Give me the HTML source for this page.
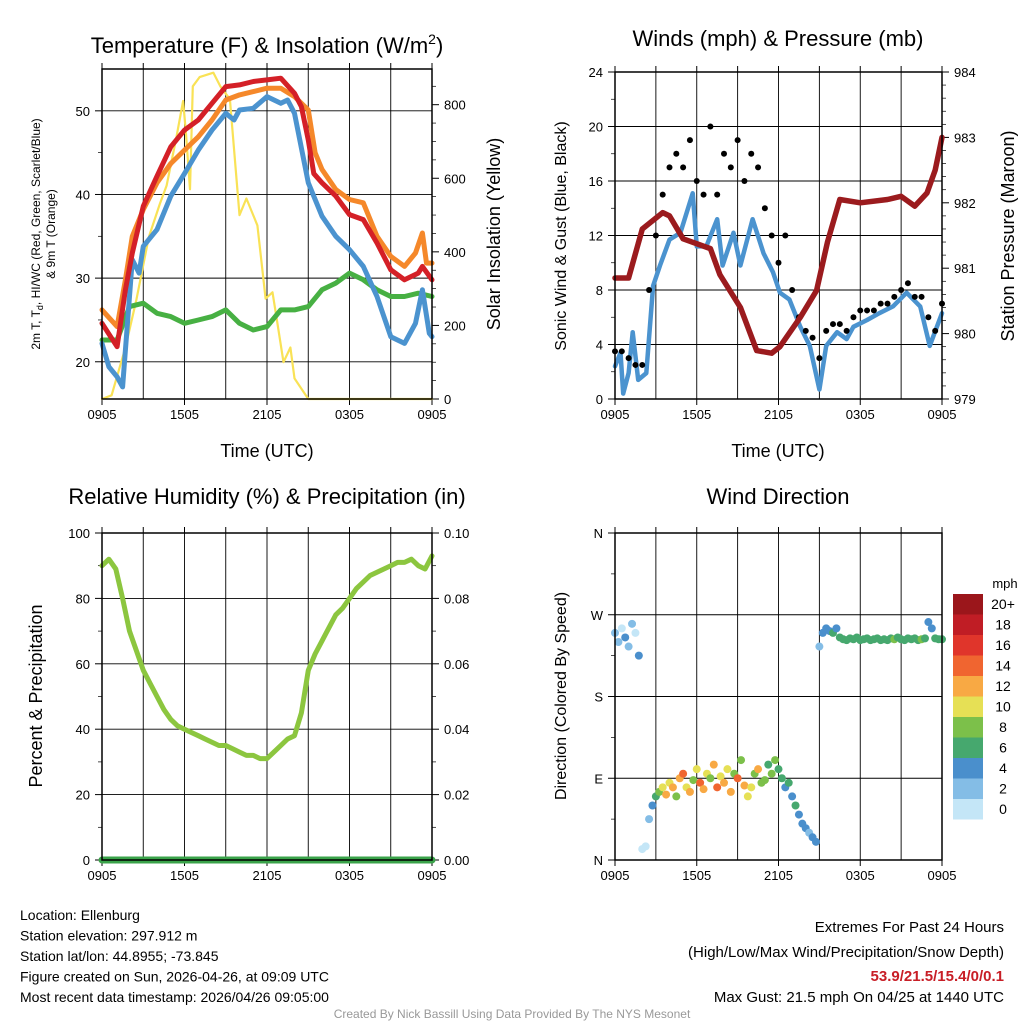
<!DOCTYPE html>
<html><head><meta charset="utf-8"><style>
body{margin:0;background:#fff;font-family:"Liberation Sans",sans-serif}
svg{display:block}
</style></head><body>
<svg id="c" width="1024" height="1024" xmlns="http://www.w3.org/2000/svg" font-family="Liberation Sans, sans-serif"></svg>
<script>
// ---------- data ----------
const xTicks=["0905","1505","2105","0305","0905"];
const redT=[0,1.1,1.7,2.2,3,4,5,6,7,8,9,10,11,12,13,14,14.5,15,15.4,16,17,18,19,20,21,22,23,23.3,24];
const tempRed=[24.6,21.8,28.6,33,38.6,42.2,45.7,47.7,48.9,50.9,52.9,53.1,53.5,53.7,53.9,52.1,50.5,46.5,42.5,41.4,39.8,37.6,37,34.2,31,29.8,30.6,31.4,29.8];
const orangeT=[0,1.1,1.7,2.2,3,4,5,6,7,8,9,10,11,12,13,14,15,15.5,16,17,18,19,20,21,22,22.8,23.3,23.6,24];
const tempOrange=[26.2,24.2,29.8,35,38.2,41.4,43.7,45.3,46.9,48.9,51.3,51.9,52.3,52.7,52.7,51.7,50.1,45,43,40.6,39.4,39,35,32.6,31.4,33,35.4,31.8,31.8];
const blueT=[0,0.5,1.1,1.5,2.2,2.7,3,4,5,6,7,8,9,9.6,10,11,12,13,13.5,14,15,16,17,18,19,20,21,22,22.8,23.3,23.8,24];
const tempBlue=[22.2,19.4,18.2,17,32.2,30.6,33.8,35.8,39.8,42.5,45.3,47.7,49.7,48.9,50.1,50.3,51.7,50.9,51.3,49.7,41.4,37.4,35,33.4,31.4,27.8,23,22.2,24.6,28.6,23.4,23];
const greenT=[0,1.1,2,3,4,5,6,7,8,9,10,11,12,13,14,15,16,17,18,19,20,21,22,23,24];
const tempGreen=[22.6,22.6,26.6,27,25.8,25.4,24.6,25,25.4,26.2,24.6,23.8,24.2,26.2,26.2,26.6,28.6,29.4,30.6,29.8,28.6,27.8,27.8,28.2,27.8];
const solarT=[0,0.7,1.7,2.5,3.4,4.2,4.7,5.4,5.9,6.1,6.4,6.6,7.1,8.1,8.6,9.3,10,10.5,11.3,11.9,12.4,12.7,13.2,13.7,14,15,24];
const solar=[0,10,140,270,440,530,580,710,810,725,570,850,875,887,850,815,500,545,472,273,290,220,100,140,56,0,0];
const windT=[0,0.4,0.6,1,1.3,1.7,2.3,2.8,3.3,4,4.8,5.7,6,6.7,7.5,7.9,8.7,9.2,10.1,10.9,11.6,12.1,12.8,13.6,14.3,15,15.5,16.3,17,17.5,18.5,19.4,20.4,21.4,22.4,23.1,24];
const wind=[2.4,3.4,0.4,1.9,4.9,1.4,1.9,8.3,9.8,11.7,12.2,15.1,11.2,11.2,13.2,9.8,12.2,9.8,13.2,10.7,9.3,7.8,7.3,5.3,3.9,0.7,3.9,4.9,4.4,5.3,5.8,6.3,6.8,7.8,6.8,3.9,6.3];
const hours2=[];for(let i=0;i<=48;i++)hours2.push(i/2);
const gust=[3.5,3.5,3,2.5,2.5,8,12,15,17,18,17,19,16,15,20,15,18,17,19,16,18,17,14,12,10,12,8,6,5,4.5,3,5,5.5,5.5,5,6,6.5,6.5,6.5,7,7,7.5,8,8.5,7.5,7.5,6,5,7];
const presT=[0,1,2,3.5,4,5,7,7.7,9.2,10.4,11.5,12.1,13.6,14.8,15.6,16.5,18,20,21,22,22.9,23.5,24];
const pressure=[980.85,980.85,981.6,981.85,981.8,981.45,981.3,980.9,980.4,979.74,979.7,979.8,980.25,980.66,981.4,982.05,982.0,982.05,982.1,981.95,982.15,982.5,983.0];
const rh=[90,92,89,80,70,64,58,54,50,46,43,41,40,39,38,37,36,35,35,34,33,32,32,31,31,33,35,37,38,45,58,63,67,71,75,77,80,83,85,87,88,89,90,91,91,92,90,89,93];
const hours1=[0,6,12,18,24];
const precip=[0,0,0,0,0];
const dirT=[];for(let i=0;i<=96;i++)dirT.push(i/4);
const windDir=[250,240,255,245, 235,260,250,225, 12,15,45,60, 70,75,80,72, 85,80,70,90, 95,80,75,88, 100,85,78,95, 90,105,80,92, 85,100,75,95, 90,110,82,70, 80,95,100,85, 88,105,95,110, 100,90,80,85, 70,60,50,40, 35,30,25,20, 235,250,255,252, 250,255,245,243, 242,244,243,245, 242,243,244,242, 243,244,242,243, 242,244,243,245, 243,242,244,243, 244,242,243,244, 262,255,244,243, 243];
const windSpd=[2,3,1,4, 2,3,1,5, 0.5,1,3,5, 7,9,10,12, 11,13,9,12, 14,10,12,8, 11,14,13,10, 9,12,15,11, 13,10,12,8, 15,9,12,11, 10,8,12,9, 8,7,9,8, 6,7,5,6, 5,6,4,5, 4,3,4,4, 2,4,5,4, 6,5,6,7, 6,7,6,7, 6,7,6,7, 7,6,7,6, 6,7,8,7, 7,6,7,6, 7,6,8,7, 4,5,6,7, 6];
const cbLabels=["20+","18","16","14","12","10","8","6","4","2","0"];
const cbColors=["#9b161b","#c01d25","#e0352b","#f06530","#f8a944","#e6e055","#7cc04a","#46a86e","#4a8fcc","#84bde6","#c4e6f7"];

// ---------- helpers ----------
const svg=document.getElementById('c');const NS="http://www.w3.org/2000/svg";
function el(tag,attrs,parent,text){const e=document.createElementNS(NS,tag);for(const k in attrs)e.setAttribute(k,attrs[k]);if(text!==undefined)e.textContent=text;(parent||svg).appendChild(e);return e;}
function lin(d0,d1,r0,r1){return v=>r0+(v-d0)/(d1-d0)*(r1-r0);}
function txt(x,y,s,size,anchor,parent,name,extra){const t=el('text',Object.assign({x:x,y:y,'font-size':size,'text-anchor':anchor||'middle',fill:'#000'},extra||{}),parent,s);return t;}
function frame(P,name){
  const g=el('g',{});
  const X=lin(0,24,P.x0,P.x1);
  for(let h=3;h<24;h+=3){el('line',{x1:X(h),x2:X(h),y1:P.y0,y2:P.y1,stroke:'#000','stroke-width':0.9},g);}
  xTicks.forEach((s,i)=>{const x=X(i*6);el('line',{x1:x,x2:x,y1:P.y1,y2:P.y1+6,stroke:'#000'},g);txt(x,P.y1+20,s,13,'middle',g,'x-tick-label');});
  for(let h=0;h<=24;h+=3){el('line',{x1:X(h),x2:X(h),y1:P.y0,y2:P.y0-6,stroke:'#000'},g);}
  return g;}
function yAxisL(P,g,d0,d1,ticks,labels,minor){
  const Y=lin(d0,d1,P.y1,P.y0);
  ticks.forEach((v,i)=>{const y=Y(v);el('line',{x1:P.x0,x2:P.x1,y1:y,y2:y,stroke:'#000','stroke-width':0.9},g);el('line',{x1:P.x0-7,x2:P.x0,y1:y,y2:y,stroke:'#000'},g);txt(P.x0-12,y+5,labels[i],13,'end',g,'y-tick-label');});
  minor.forEach(v=>{const y=Y(v);el('line',{x1:P.x0-4,x2:P.x0,y1:y,y2:y,stroke:'#000','stroke-width':0.7},g);});
  return Y;}
function yAxisR(P,g,d0,d1,ticks,labels,minor){
  const Y=lin(d0,d1,P.y1,P.y0);
  ticks.forEach((v,i)=>{const y=Y(v);el('line',{x1:P.x1,x2:P.x1+7,y1:y,y2:y,stroke:'#000'},g);txt(P.x1+12,y+5,labels[i],13,'start',g,'y2-tick-label');});
  minor.forEach(v=>{const y=Y(v);el('line',{x1:P.x1,x2:P.x1+4,y1:y,y2:y,stroke:'#000','stroke-width':0.7},g);});
  return Y;}
function border(P,g){el('rect',{x:P.x0,y:P.y0,width:P.x1-P.x0,height:P.y1-P.y0,fill:'none',stroke:'#000','stroke-width':1.5},g);}
function line(xs,ys,X,Y,color,w,g,name){const d=xs.map((h,i)=>(i?'L':'M')+X(h).toFixed(1)+','+Y(ys[i]).toFixed(1)).join('');const p=el('path',{d:d,fill:'none',stroke:color,'stroke-width':w,'stroke-linejoin':'round','stroke-linecap':'round'},g);return p;}
function seq(a,b,s){const r=[];for(let v=a;v<=b+1e-9;v+=s)r.push(+v.toFixed(3));return r;}

// ---------- Panel 1: temperature ----------
const P1={x0:102,x1:432,y0:69,y1:399};
const g1=frame(P1,'temperature-panel');
const X1=lin(0,24,P1.x0,P1.x1);
const Y1=yAxisL(P1,g1,15.55,55.0,[20,30,40,50],["20","30","40","50"],[25,35,45]);
const Y1r=yAxisR(P1,g1,0,897,[0,200,400,600,800],["0","200","400","600","800"],seq(50,850,50).filter(v=>v%200));
line(solarT,solar,X1,Y1r,'#f9e256',2.2,g1,'solar-insolation-line');
line(greenT,tempGreen,X1,Y1,'#47b043',5,g1,'dewpoint-line');
line(orangeT,tempOrange,X1,Y1,'#f5882a',5,g1,'9m-temp-line');
line(blueT,tempBlue,X1,Y1,'#4b93cf',5,g1,'windchill-line');
line(redT,tempRed,X1,Y1,'#d42027',5,g1,'2m-temp-line');
border(P1,g1);
const t1=txt(267,53,'Temperature (F) & Insolation (W/m',22,'middle',g1,'temperature-title');
el('tspan',{dy:-9,'font-size':14},t1,'2');el('tspan',{dy:9},t1,')');
txt(267,457,'Time (UTC)',18,'middle',g1,'x-axis-title');
const yl=txt(0,0,'2m T, T',12,'middle',g1,'y-axis-title',{transform:'translate(40,234) rotate(-90)'});
el('tspan',{'font-size':9,dy:3},yl,'d');el('tspan',{dy:-3},yl,', HI/WC (Red, Green, Scarlet/Blue)');
txt(0,0,'& 9m T (Orange)',12,'middle',g1,'y-axis-title-line2',{transform:'translate(55,234) rotate(-90)'});
txt(0,0,'Solar Insolation (Yellow)',18,'middle',g1,'y2-axis-title',{transform:'translate(500,234) rotate(-90)'});

// ---------- Panel 2: winds ----------
const P2={x0:615,x1:942,y0:72,y1:399};
const g2=frame(P2,'winds-panel');
const X2=lin(0,24,P2.x0,P2.x1);
const Y2=yAxisL(P2,g2,0,24,[0,4,8,12,16,20,24],["0","4","8","12","16","20","24"],[2,6,10,14,18,22]);
const Y2r=yAxisR(P2,g2,979,984,[979,980,981,982,983,984],["979","980","981","982","983","984"],seq(979.2,983.8,0.2).filter(v=>Math.abs(v-Math.round(v))>0.01));
line(windT,wind,X2,Y2,'#4b93cf',4.5,g2,'sonic-wind-line');
hours2.forEach((h,i)=>{const c=el('circle',{cx:X2(h),cy:Y2(gust[i]),r:3,fill:'#000'},g2);});
line(presT,pressure,X2,Y2r,'#9b1b1e',5.5,g2,'pressure-line');
border(P2,g2);
txt(778,46,'Winds (mph) & Pressure (mb)',22,'middle',g2,'winds-title');
txt(778,457,'Time (UTC)',18,'middle',g2,'x-axis-title');
txt(0,0,'Sonic Wind & Gust (Blue, Black)',16,'middle',g2,'y-axis-title',{transform:'translate(566,236) rotate(-90)'});
txt(0,0,'Station Pressure (Maroon)',18,'middle',g2,'y2-axis-title',{transform:'translate(1014,236) rotate(-90)'});

// ---------- Panel 3: RH ----------
const P3={x0:102,x1:432,y0:533,y1:860};
const g3=frame(P3,'humidity-panel');
const X3=lin(0,24,P3.x0,P3.x1);
const Y3=yAxisL(P3,g3,0,100,[0,20,40,60,80,100],["0","20","40","60","80","100"],[10,30,50,70,90]);
const Y3r=yAxisR(P3,g3,0,0.1,[0,0.02,0.04,0.06,0.08,0.1],["0.00","0.02","0.04","0.06","0.08","0.10"],[0.01,0.03,0.05,0.07,0.09]);
line(hours2,rh,X3,Y3,'#8cc63f',5,g3,'humidity-line');
line(hours1,precip,X3,Y3r,'#3aa34a',7,g3,'precipitation-line');
border(P3,g3);
txt(267,504,'Relative Humidity (%) & Precipitation (in)',22,'middle',g3,'humidity-title');
txt(0,0,'Percent & Precipitation',18,'middle',g3,'y-axis-title',{transform:'translate(42,696) rotate(-90)'});

// ---------- Panel 4: wind direction ----------
const P4={x0:615,x1:942,y0:533,y1:860};
const g4=frame(P4,'wind-direction-panel');
const X4=lin(0,24,P4.x0,P4.x1);
const Y4=yAxisL(P4,g4,0,360,[0,90,180,270,360],["N","E","S","W","N"],[45,135,225,315]);
function spdColor(s){const bin=Math.min(10,Math.floor(s/2));return cbColors[10-bin];}
dirT.forEach((h,i)=>{const c=el('circle',{cx:X4(h),cy:Y4(windDir[i]),r:4,fill:spdColor(windSpd[i])},g4);});
border(P4,g4);
txt(778,504,'Wind Direction',22,'middle',g4,'wind-direction-title');
txt(0,0,'Direction (Colored By Speed)',16,'middle',g4,'y-axis-title',{transform:'translate(566,696) rotate(-90)'});
const cb=el('g',{});
txt(1005,588,'mph',13,'middle',cb,'colorbar-title');
cbLabels.forEach((s,i)=>{const y=594+i*20.5;const r=el('rect',{x:953,y:y,width:30,height:20.5,fill:cbColors[i]},cb);txt(1003,y+15,s,14,'middle',cb,'colorbar-label');});

// ---------- footer ----------
const info=["Location: Ellenburg","Station elevation: 297.912 m","Station lat/lon: 44.8955; -73.845","Figure created on Sun, 2026-04-26, at 09:09 UTC","Most recent data timestamp: 2026/04/26 09:05:00"];
info.forEach((s,i)=>txt(20,920+i*20.5,s,14,'start',svg,'station-info-line'));
txt(1004,932,'Extremes For Past 24 Hours',15,'end',svg,'extremes-title');
txt(1004,957,'(High/Low/Max Wind/Precipitation/Snow Depth)',15,'end',svg,'extremes-subtitle');
txt(1004,981,'53.9/21.5/15.4/0/0.1',15,'end',svg,'extremes-values',{fill:'#c81e26','font-weight':'bold'});
txt(1004,1002,'Max Gust: 21.5 mph On 04/25 at 1440 UTC',15,'end',svg,'max-gust-text');
txt(512,1018,'Created By Nick Bassill Using Data Provided By The NYS Mesonet',12,'middle',svg,'credit-text',{fill:'#999'});
</script>
</body></html>
